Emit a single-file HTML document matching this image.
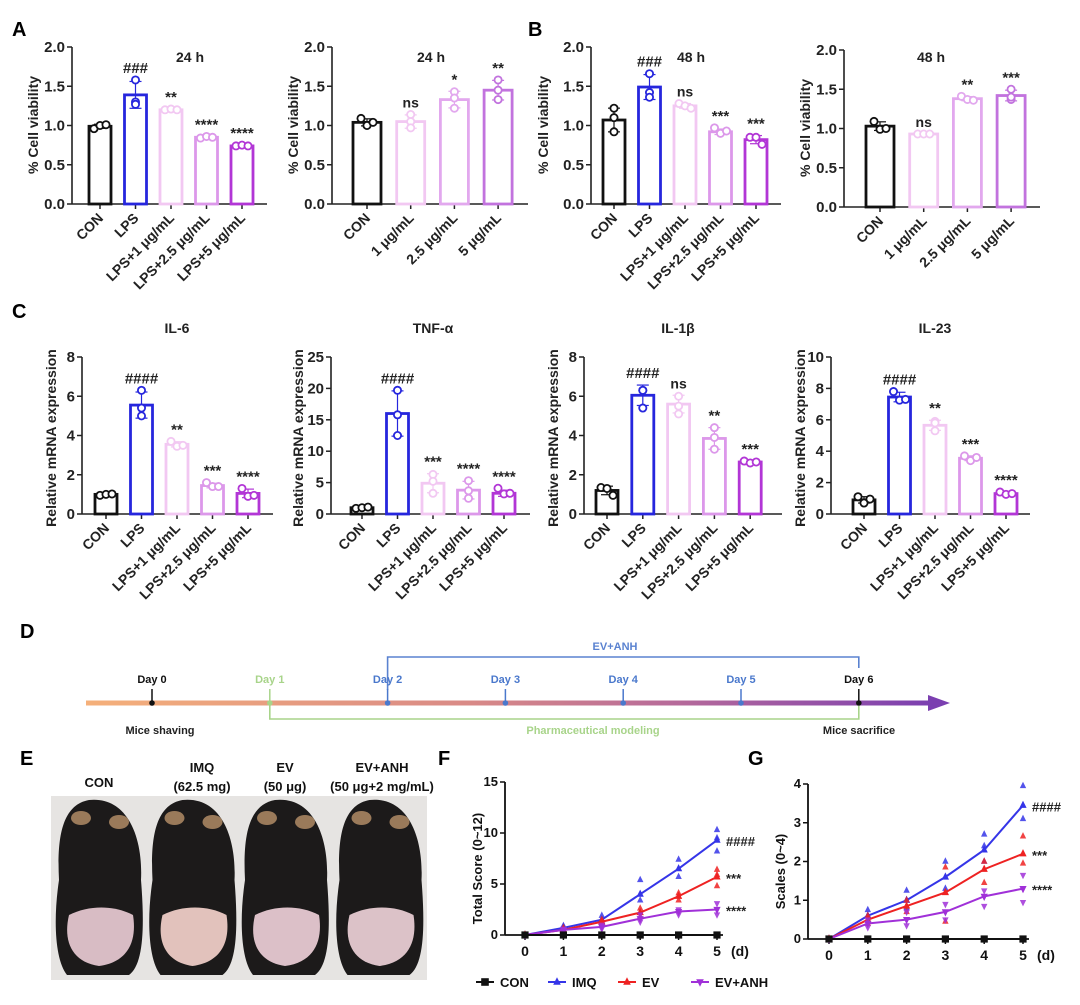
<!DOCTYPE html>
<html><head><meta charset="utf-8">
<style>
html,body{margin:0;padding:0;background:#fff;}
svg{display:block;font-family:"Liberation Sans",Arial,sans-serif;font-weight:bold;}
</style></head>
<body>
<svg id="fig" width="1080" height="1005" viewBox="0 0 1080 1005" xmlns="http://www.w3.org/2000/svg">
<defs>
<linearGradient id="tl" x1="0" x2="1" y1="0" y2="0">
<stop offset="0" stop-color="#f5b07a"/><stop offset="0.45" stop-color="#d98a86"/><stop offset="0.7" stop-color="#b66a9a"/><stop offset="1" stop-color="#7b3fb0"/>
</linearGradient>
</defs>
<g id="labels" font-size="20">
<text x="12" y="36">A</text>
<text x="528" y="36">B</text>
<text x="12" y="318">C</text>
<text x="20" y="638">D</text>
<text x="20" y="765">E</text>
<text x="438" y="765">F</text>
<text x="748" y="765">G</text>
</g>
<g id="timeline"></g>
<g id="photo"></g>
<g id="charts"></g>
</svg>
<script>
const NS="http://www.w3.org/2000/svg";
const root=document.getElementById('charts');
function mk(tag,attrs,parent,text){const e=document.createElementNS(NS,tag);for(const k in attrs)e.setAttribute(k,attrs[k]);if(text!==undefined)e.textContent=text;(parent||root).appendChild(e);return e;}

/* ===== Data: bar charts ===== */
const catsLPS=["CON","LPS","LPS+1 μg/mL","LPS+2.5 μg/mL","LPS+5 μg/mL"];
const catsDose=["CON","1 μg/mL","2.5 μg/mL","5 μg/mL"];
const colLPS=["#111111","#2626dd","#f2c8f2","#dc98ea","#b236d6"];
const colDose=["#111111","#f2c8f2","#e2a8ee","#c273de"];

const a1Means=[0.99,1.39,1.20,0.85,0.74];
const a1Pts=[[0.96,1.00,1.01],[1.58,1.30,1.27],[1.20,1.21,1.20],[0.84,0.86,0.85],[0.74,0.75,0.74]];
const a1Sig=["","###","**","****","****"];
const a2Means=[1.04,1.05,1.33,1.45];
const a2Pts=[[1.09,1.00,1.04],[1.14,1.05,0.97],[1.43,1.35,1.22],[1.58,1.45,1.33]];
const a2Sig=["","ns","*","**"];
const b1Means=[1.07,1.49,1.25,0.92,0.82];
const b1Pts=[[1.22,1.10,0.92],[1.66,1.42,1.36],[1.28,1.25,1.22],[0.97,0.90,0.93],[0.85,0.85,0.76]];
const b1Sig=["","###","ns","***","***"];
const b2Means=[1.03,0.93,1.38,1.42];
const b2Pts=[[1.09,0.99,1.00],[0.93,0.93,0.93],[1.41,1.37,1.36],[1.50,1.37,1.40]];
const b2Sig=["","ns","**","***"];
const viaTicks=["0.0","0.5","1.0","1.5","2.0"];

const il6Means=[1.0,5.55,3.55,1.45,1.05];
const il6Pts=[[0.95,1.0,1.02],[6.3,5.0,5.4],[3.7,3.45,3.5],[1.6,1.4,1.4],[1.3,0.9,0.95]];
const il6Sig=["","####","**","***","****"];
const il6Ticks=[0,2,4,6,8];
const tnfMeans=[1.0,16.0,4.9,3.8,3.3];
const tnfPts=[[0.9,1.0,1.1],[19.7,15.8,12.5],[6.3,5.2,3.3],[5.3,3.7,2.5],[4.1,3.2,3.3]];
const tnfSig=["","####","***","****","****"];
const tnfTicks=[0,5,10,15,20,25];
const il1Means=[1.2,6.05,5.6,3.85,2.65];
const il1Pts=[[1.35,1.3,0.95],[6.3,6.3,5.4],[6.0,5.5,5.1],[4.4,3.9,3.3],[2.7,2.6,2.65]];
const il1Sig=["","####","ns","**","***"];
const il1Ticks=[0,2,4,6,8];
const il23Means=[0.9,7.45,5.65,3.55,1.3];
const il23Pts=[[1.1,0.7,0.95],[7.8,7.25,7.3],[5.9,5.3,5.8],[3.7,3.4,3.6],[1.4,1.25,1.3]];
const il23Sig=["","####","**","***","****"];
const il23Ticks=[0,2,4,6,8,10];

function barChart(name,L,cats,means,pts,sigs,cols,ticks){
  const g=mk('g',{});
  
  
  const tv=ticks.map(Number);const ymax=tv[tv.length-1];
  const Y=v=>L.y0-(v/ymax)*(L.y0-L.yTop);
  const X=i=>L.x1+i*L.step;
  mk('line',{x1:L.ax,y1:L.yTop,x2:L.ax,y2:L.y0,stroke:'#222','stroke-width':1.6},g);
  mk('line',{x1:L.ax,y1:L.y0,x2:L.xEnd,y2:L.y0,stroke:'#222','stroke-width':1.6},g);
  ticks.forEach((t,i)=>{const y=Y(tv[i]);
    mk('line',{x1:L.ax-5,y1:y,x2:L.ax,y2:y,stroke:'#222','stroke-width':1.5},g);
    const tl=mk('text',{x:L.ax-7,y:y+5,'text-anchor':'end','font-size':15,fill:'#222'},g,String(t));
    
    
  });
  const yt=mk('text',{transform:`translate(${L.ylx},${L.yly}) rotate(-90)`,'text-anchor':'middle','font-size':L.yfs||14,fill:'#222'},g,L.ytitle);
  
  
  if(L.title){const tt=mk('text',{x:L.tx,y:L.ty,'text-anchor':'middle','font-size':14,fill:'#222'},g,L.title);
    
    }
  cats.forEach((c,i)=>{
    const cx=X(i),col=cols[i],w=L.bw;
    mk('line',{x1:cx,y1:L.y0,x2:cx,y2:L.y0+5,stroke:'#222','stroke-width':1.5},g);
    const bar=mk('rect',{x:cx-w/2,y:Y(means[i]),width:w,height:L.y0-Y(means[i]),fill:'none',stroke:col,'stroke-width':2.8},g);
    
    
    const p=pts[i];const m=p.reduce((a,b)=>a+b,0)/p.length;
    const sd=Math.sqrt(p.reduce((a,b)=>a+(b-m)*(b-m),0)/(p.length-1));
    const eb=mk('g',{stroke:col,'stroke-width':1.2},g);
    
    
    mk('line',{x1:cx,y1:Y(means[i]+sd),x2:cx,y2:Y(means[i]-sd)},eb);
    mk('line',{x1:cx-6,y1:Y(means[i]+sd),x2:cx+6,y2:Y(means[i]+sd)},eb);
    mk('line',{x1:cx-6,y1:Y(means[i]-sd),x2:cx+6,y2:Y(means[i]-sd)},eb);
    const offs=[-6,0,6];
    const tight=(Math.max(...p)-Math.min(...p))<0.06*ymax;
    p.forEach((v,j)=>{const ci=mk('circle',{cx:cx+(tight?offs[j]:0),cy:Y(v),r:3.6,fill:'#fff',stroke:col,'stroke-width':1.8},g);
      
      });
    if(sigs[i]){const top=Math.max(...p,means[i]+sd);
      const s=mk('text',{x:cx,y:Y(top)-7,'text-anchor':'middle','font-size':sigs[i]==='ns'?14:15,fill:'#222'},g,sigs[i]);
      
      }
    const xl=mk('text',{transform:`translate(${cx+4},${L.y0+15}) rotate(-45)`,'text-anchor':'end','font-size':14,fill:'#222'},g,c);
    
    
  });
}
barChart('chart-a-24h-lps',{ax:72,x1:100,step:35.5,xEnd:267,y0:204,yTop:47,bw:22,ylx:38,yly:125,ytitle:'% Cell viability',title:'24 h',tx:190,ty:62},catsLPS,a1Means,a1Pts,a1Sig,colLPS,viaTicks);
barChart('chart-a-24h-dose',{ax:332,x1:367,step:43.7,xEnd:528,y0:204,yTop:47,bw:28,ylx:298,yly:125,ytitle:'% Cell viability',title:'24 h',tx:431,ty:62},catsDose,a2Means,a2Pts,a2Sig,colDose,viaTicks);
barChart('chart-b-48h-lps',{ax:591,x1:614,step:35.5,xEnd:781,y0:204,yTop:47,bw:22,ylx:548,yly:125,ytitle:'% Cell viability',title:'48 h',tx:691,ty:62},catsLPS,b1Means,b1Pts,b1Sig,colLPS,viaTicks);
barChart('chart-b-48h-dose',{ax:844,x1:880,step:43.7,xEnd:1040,y0:207,yTop:50,bw:28,ylx:810,yly:128,ytitle:'% Cell viability',title:'48 h',tx:931,ty:62},catsDose,b2Means,b2Pts,b2Sig,colDose,viaTicks);
barChart('chart-c-il6',{ax:82,x1:106,step:35.5,xEnd:273,y0:514,yTop:357,bw:22,ylx:56,yly:438,ytitle:'Relative mRNA expression',title:'IL-6',tx:177,ty:333},catsLPS,il6Means,il6Pts,il6Sig,colLPS,il6Ticks);
barChart('chart-c-tnf',{ax:331,x1:362,step:35.5,xEnd:530,y0:514,yTop:357,bw:22,ylx:303,yly:438,ytitle:'Relative mRNA expression',title:'TNF-α',tx:433,ty:333},catsLPS,tnfMeans,tnfPts,tnfSig,colLPS,tnfTicks);
barChart('chart-c-il1b',{ax:584,x1:607,step:35.8,xEnd:782,y0:514,yTop:357,bw:22,ylx:558,yly:438,ytitle:'Relative mRNA expression',title:'IL-1β',tx:678,ty:333},catsLPS,il1Means,il1Pts,il1Sig,colLPS,il1Ticks);
barChart('chart-c-il23',{ax:831,x1:864,step:35.5,xEnd:1030,y0:514,yTop:357,bw:22,ylx:805,yly:438,ytitle:'Relative mRNA expression',title:'IL-23',tx:935,ty:333},catsLPS,il23Means,il23Pts,il23Sig,colLPS,il23Ticks);

/* ===== Data: line charts F & G ===== */
const days=[0,1,2,3,4,5];
const groups=["CON","IMQ","EV","EV+ANH"];
const fCON=[0,0,0,0,0,0];
const fIMQ=[0,0.7,1.5,4.0,6.5,9.3];
const fEV=[0,0.5,1.3,2.2,3.8,5.7];
const fANH=[0,0.5,0.8,1.6,2.3,2.5];
const fIMQpts=[[0,0,0],[0.5,0.8,0.9],[1.2,1.5,1.9],[3.4,4.0,5.4],[5.7,6.5,7.4],[8.2,9.5,10.3]];
const fEVpts=[[0,0,0],[0.4,0.5,0.7],[1.0,1.3,1.5],[1.8,2.2,2.6],[3.4,3.8,4.1],[4.8,5.9,6.4]];
const fANHpts=[[0,0,0],[0.3,0.5,0.6],[0.6,0.8,1.0],[1.3,1.6,2.0],[2.0,2.3,2.5],[2.0,2.5,3.1]];
const fSig=["","####","***","****"];
const fTicks=[0,5,10,15];
const gCON=[0,0,0,0,0,0];
const gIMQ=[0,0.6,1.0,1.6,2.3,3.45];
const gEV=[0,0.5,0.85,1.2,1.8,2.2];
const gANH=[0,0.4,0.5,0.7,1.1,1.3];
const gIMQpts=[[0,0,0],[0.5,0.6,0.75],[0.8,1.0,1.25],[1.3,1.6,2.0],[2.0,2.4,2.7],[3.1,3.45,3.95]];
const gEVpts=[[0,0,0],[0.4,0.5,0.6],[0.7,0.85,1.0],[0.45,1.2,1.85],[1.45,1.8,2.0],[1.95,2.2,2.65]];
const gANHpts=[[0,0,0],[0.3,0.4,0.5],[0.35,0.5,0.7],[0.5,0.7,0.9],[0.85,1.1,1.25],[0.95,1.3,1.65]];
const gSig=["","####","***","****"];
const gTicks=[0,1,2,3,4];
const lineCols=["#111111","#3535e8","#ee2222","#a030d8"];
const markers=["square","up","up","down"];

function marker(g,type,x,y,col,s){
  let m;
  if(type==='square')m=mk('rect',{x:x-s,y:y-s,width:2*s,height:2*s,fill:col},g);
  else if(type==='up')m=mk('polygon',{points:`${x},${y-s-1} ${x-s},${y+s-1} ${x+s},${y+s-1}`,fill:col},g);
  else m=mk('polygon',{points:`${x},${y+s+1} ${x-s},${y-s+1} ${x+s},${y-s+1}`,fill:col},g);
  return m;
}
function lineChart(name,L,means,ptsets,sigs,ticks){
  const g=mk('g',{});
  
  
  const ymax=ticks[ticks.length-1];
  const Y=v=>L.y0-(v/ymax)*(L.y0-L.yTop);
  const X=d=>L.x0+d*L.step;
  mk('line',{x1:L.ax,y1:L.yTop,x2:L.ax,y2:L.y0,stroke:'#111','stroke-width':1.8},g);
  mk('line',{x1:L.ax,y1:L.y0,x2:X(5)+6,y2:L.y0,stroke:'#111','stroke-width':1.8},g);
  ticks.forEach(t=>{const y=Y(t);
    mk('line',{x1:L.ax-5,y1:y,x2:L.ax,y2:y,stroke:'#111','stroke-width':1.5},g);
    const tl=mk('text',{x:L.ax-7,y:y+4,'text-anchor':'end','font-size':13,fill:'#111'},g,String(t));
    
    });
  days.forEach(d=>{
    mk('line',{x1:X(d),y1:L.y0,x2:X(d),y2:L.y0+5,stroke:'#111','stroke-width':1.5},g);
    const tl=mk('text',{x:X(d),y:L.y0+21,'text-anchor':'middle','font-size':14,fill:'#111'},g,String(d));
    
    });
  const du=mk('text',{x:X(5)+14,y:L.y0+21,'font-size':14,fill:'#111'},g,'(d)');
  
  
  const yt=mk('text',{transform:`translate(${L.ylx},${(L.y0+L.yTop)/2+10}) rotate(-90)`,'text-anchor':'middle','font-size':13,fill:'#111'},g,L.ytitle);
  
  
  [1,2,3,0].forEach(k=>{
    const col=lineCols[k];
    if(ptsets[k]){ptsets[k].forEach((arr,d)=>arr.forEach(v=>{const p=marker(g,markers[k],X(d),Y(v),col,3.2);p.setAttribute('opacity','0.85');
      
      }));}
    const pl=mk('polyline',{points:means[k].map((v,d)=>X(d)+','+Y(v)).join(' '),fill:'none',stroke:col,'stroke-width':2},g);
    
    
    means[k].forEach((v,d)=>{const p=marker(g,markers[k],X(d),Y(v),col,3.6);
      
      });
    if(sigs[k]){const s=mk('text',{x:X(5)+9,y:Y(means[k][5])+6,'font-size':13,fill:'#222'},g,sigs[k]);
      
      }
  });
}
lineChart('chart-f-total-score',{ax:505,x0:525,step:38.4,y0:935,yTop:782,ylx:482,ytitle:'Total Score (0~12)'},[fCON,fIMQ,fEV,fANH],[null,fIMQpts,fEVpts,fANHpts],fSig,fTicks);
lineChart('chart-g-scales',{ax:808,x0:829,step:38.8,y0:939,yTop:784,ylx:785,ytitle:'Scales (0~4)'},[gCON,gIMQ,gEV,gANH],[null,gIMQpts,gEVpts,gANHpts],gSig,gTicks);

/* legend */
const lg=mk('g',{});


const legX=[485,557,627,700];
groups.forEach((n,k)=>{
  const e=mk('g',{},lg);
  
  
  mk('line',{x1:legX[k]-9,y1:982,x2:legX[k]+9,y2:982,stroke:lineCols[k],'stroke-width':2},e);
  marker(e,markers[k],legX[k],982,lineCols[k],3.8);
  mk('text',{x:legX[k]+15,y:987,'font-size':13,fill:'#111'},e,n);
});

/* ===== Timeline D ===== */
const tlG=document.getElementById('timeline');
const dayNames=["Day 0","Day 1","Day 2","Day 3","Day 4","Day 5","Day 6"];
const dayCols=["#111","#a8d48a","#4a78cc","#4a78cc","#4a78cc","#4a78cc","#111"];
const TX=i=>152+i*117.8;
mk('rect',{x:86,y:700.5,width:845,height:5,fill:'url(#tl)'},tlG);
mk('polygon',{points:'928,695 950,703 928,711',fill:'#7b3fb0'},tlG);
mk('polyline',{points:`${TX(2)},690 ${TX(2)},657 ${TX(6)},657 ${TX(6)},668`,fill:'none',stroke:'#5a82d0','stroke-width':1.6},tlG);
mk('polyline',{points:`${TX(1)},703 ${TX(1)},719 ${TX(6)},719 ${TX(6)},706`,fill:'none',stroke:'#a8d48a','stroke-width':1.6},tlG);
dayNames.forEach((d,i)=>{
  mk('line',{x1:TX(i),y1:689,x2:TX(i),y2:703,stroke:dayCols[i],'stroke-width':1.5},tlG);
  mk('circle',{cx:TX(i),cy:703,r:2.8,fill:dayCols[i]},tlG);
  const t=mk('text',{x:TX(i),y:683,'text-anchor':'middle','font-size':11,fill:dayCols[i]},tlG,d);
  
  
});
mk('text',{x:615,y:650,'text-anchor':'middle','font-size':11,fill:'#5a82d0'},tlG,'EV+ANH');
mk('text',{x:160,y:734,'text-anchor':'middle','font-size':11,fill:'#222'},tlG,'Mice shaving');
mk('text',{x:593,y:734,'text-anchor':'middle','font-size':11,fill:'#a8d48a'},tlG,'Pharmaceutical modeling');
mk('text',{x:859,y:734,'text-anchor':'middle','font-size':11,fill:'#222'},tlG,'Mice sacrifice');

/* ===== Photo E ===== */
const ph=document.getElementById('photo');
mk('rect',{x:51,y:796,width:376,height:184,fill:'#e6e4e2'},ph);
const pxs=[51,147,238,332];const pws=[96,91,94,95];
const patch=["#d8bcc4","#e2c2bc","#dcc0c8","#dcc2c8"];
pxs.forEach((x,i)=>{
  const cx=x+pws[i]/2;
  mk('path',{d:`M${cx-10},${800} C${cx+30},${796} ${cx+44},${840} ${cx+42},${880} C${cx+46},${930} ${cx+44},${965} ${cx+30},${975} L${cx-32},${975} C${cx-44},${960} ${cx-46},${920} ${cx-40},${880} C${cx-42},${840} ${cx-38},${805} ${cx-10},${800} Z`,fill:'#1c1a1a'},ph);
  mk('ellipse',{cx:cx-18,cy:818,rx:10,ry:7,fill:'#9a7a5a'},ph);
  mk('ellipse',{cx:cx+20,cy:822,rx:10,ry:7,fill:'#9a7a5a'},ph);
  mk('path',{d:`M${cx-30},${915} C${cx-10},${905} ${cx+15},${905} ${cx+34},${915} C${cx+38},${940} ${cx+30},${962} ${cx},${966} C${cx-28},${962} ${cx-36},${940} ${cx-30},${915} Z`,fill:patch[i]},ph);
});
const phT=[["CON",""],["IMQ","(62.5 mg)"],["EV","(50 μg)"],["EV+ANH","(50 μg+2 mg/mL)"]];
const phX=[99,202,285,382];
phT.forEach((t,i)=>{
  const tt=mk('text',{x:phX[i],y:t[1]?772:787,'text-anchor':'middle','font-size':13,fill:'#111'},ph,t[0]);
  
  
  if(t[1]){mk('text',{x:phX[i],y:791,'text-anchor':'middle','font-size':13,fill:'#111'},ph,t[1]);}
});
</script>
</body></html>
